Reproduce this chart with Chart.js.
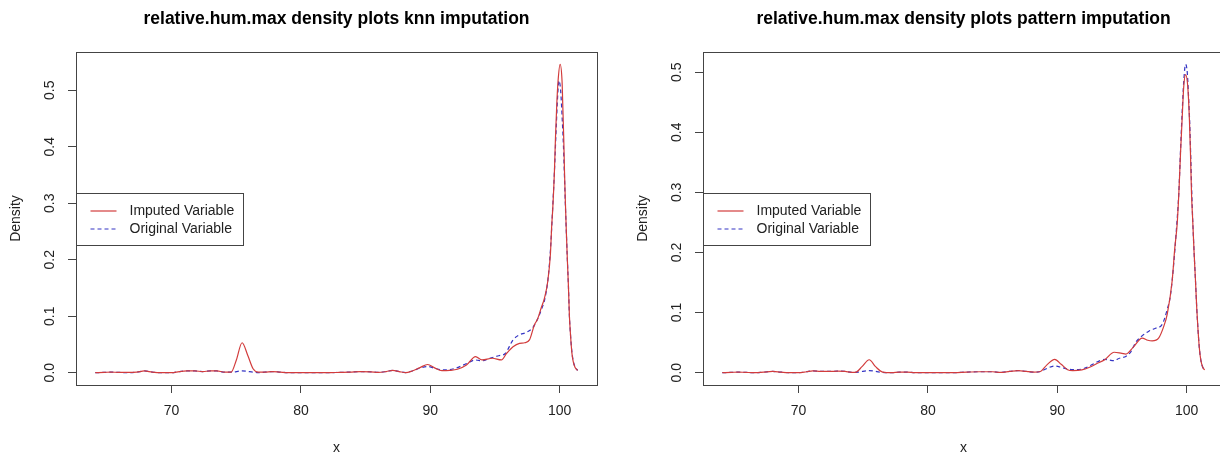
<!DOCTYPE html>
<html lang="en">
<head>
  <meta charset="UTF-8" />
  <title>relative.hum.max density plots</title>
  <script src="https://cdn.jsdelivr.net/npm/chart.js"></script>
  <style>
    body {
      margin: 0;
      background: #fff;
      width: 1220px;
      height: 455px;
      overflow: hidden;
      position: relative;
    }
    .panel {
      position: absolute;
      top: 0;
      width: 673px;
      height: 455px;
    }
    #knnPanel { left: 0; }
    #patternPanel { left: 627px; }
  </style>
</head>
<body>
  <div class="panel" id="knnPanel"><canvas id="knnChart" width="673" height="455"></canvas></div>
  <div class="panel" id="patternPanel"><canvas id="patternChart" width="673" height="455"></canvas></div>

<script>
  // tick labels
  const xTicks = [70, 80, 90, 100];
  const yTicks = [0, 0.1, 0.2, 0.3, 0.4, 0.5];
  const seriesNames = ["Imputed Variable", "Original Variable"];

  // knn imputation - imputed variable
  const knnImpX = [64.1, 64.8, 65.3, 65.9, 66.6, 67.3, 67.9, 68.5, 69.2, 70.0, 70.6, 71.2, 71.8, 72.4, 73.0, 73.5, 74.1, 74.6,
    75.0, 75.45, 75.9, 76.3, 76.7, 77.2, 77.8, 78.4, 79.0, 80.0, 81.0, 82.0, 83.0, 83.8, 84.6, 85.4, 86.0, 86.6, 87.1, 87.6,
    88.1, 88.6, 89.2, 89.8, 90.3, 90.9, 91.5, 92.1, 92.8, 93.5, 94.0, 94.8, 95.5, 95.9, 96.4, 96.9, 97.3, 97.67, 98.05, 98.3,
    98.57, 98.83, 99.08, 99.29, 99.39, 99.47, 99.6, 99.68, 99.78, 99.88, 100.04, 100.19, 100.25, 100.32, 100.38, 100.45,
    100.52, 100.6, 100.68, 100.76, 100.85, 100.95, 101.05, 101.2, 101.4];
  const knnImpY = [0, 0.0005, 0.001, 0.0005, 0.0005, 0.001, 0.003, 0.001, 0, 0, 0.002, 0.003, 0.003, 0.002, 0.003, 0.003, 0.001, 0.001,
    0.022, 0.053, 0.03, 0.007, 0.001, 0.001, 0.002, 0.001, 0, 0, 0, 0, 0.0005, 0.001, 0.002, 0.0015, 0.0005, 0.002, 0.004, 0.002,
    0, 0.003, 0.009, 0.0145, 0.009, 0.0035, 0.004, 0.006, 0.0135, 0.0285, 0.0225, 0.0255, 0.0225, 0.034, 0.046, 0.052, 0.053, 0.058, 0.0845, 0.095,
    0.114, 0.132, 0.161, 0.21, 0.26, 0.29, 0.356, 0.415, 0.474, 0.516, 0.546, 0.516, 0.47, 0.415, 0.355, 0.30,
    0.25, 0.20, 0.155, 0.10, 0.065, 0.035, 0.02, 0.009, 0.004];

  // knn imputation - original variable
  const knnOrigX = [64.1, 64.8, 65.3, 65.9, 66.6, 67.3, 67.9, 68.5, 69.2, 70.0, 70.6, 71.2, 71.8, 72.4, 73.0, 73.5, 74.1, 74.6,
    75.45, 76.3, 76.7, 77.2, 77.8, 78.4, 79.0, 82.0, 83.0, 83.8, 84.6, 85.4, 86.0, 86.6, 87.1, 87.6, 88.1, 88.6, 89.2, 89.8,
    90.3, 90.9, 91.5, 92.1, 92.8, 93.5, 94.0, 94.6, 95.3, 95.8, 96.4, 96.9, 97.4, 97.9, 98.3, 98.6, 98.85, 99.1, 99.3, 99.45,
    99.6, 99.75, 99.85, 99.95, 100.08, 100.2, 100.3, 100.38, 100.45, 100.52, 100.6, 100.68, 100.76, 100.85, 100.95, 101.05,
    101.2, 101.4];
  const knnOrigY = [0, 0.0005, 0.001, 0.0005, 0, 0.001, 0.003, 0.001, 0, 0, 0.002, 0.003, 0.003, 0.002, 0.003, 0.003, 0.001, 0.001,
    0.003, 0.001, 0, 0.001, 0.002, 0.001, 0, 0, 0.0005, 0.001, 0.002, 0.0015, 0.0005, 0.002, 0.004, 0.002, 0, 0.003, 0.008, 0.011,
    0.008, 0.005, 0.0055, 0.009, 0.016, 0.0225, 0.021, 0.0255, 0.03, 0.034, 0.058, 0.067, 0.071, 0.079, 0.095, 0.112, 0.13, 0.165, 0.22, 0.285,
    0.356, 0.44, 0.49, 0.517, 0.50, 0.45, 0.40, 0.345, 0.295, 0.25, 0.20, 0.155, 0.10, 0.065, 0.037, 0.021,
    0.01, 0.004];

  // pattern imputation - imputed variable
  const patImpX = [64.1, 64.8, 65.3, 65.9, 66.6, 67.3, 68.0, 68.6, 69.2, 70.0, 70.6, 71.1, 71.7, 72.4, 73.0, 73.6, 74.1, 74.45,
    74.9, 75.46, 75.95, 76.5, 77.2, 77.8, 78.4, 79.0, 82.0, 83.0, 84.0, 85.0, 85.6, 86.3, 87.0, 87.6, 88.2, 88.7, 89.2, 89.8,
    90.3, 90.8, 91.2, 91.9, 92.5, 93.0, 93.7, 94.4, 95.0, 95.3, 95.9, 96.56, 97.0, 97.34, 97.85, 98.2, 98.5, 98.88, 99.09,
    99.27, 99.4, 99.53, 99.65, 99.78, 99.92, 100.09, 100.22, 100.3, 100.38, 100.48, 100.58, 100.69, 100.79, 100.89, 100.99,
    101.1, 101.25, 101.4];
  const patImpY = [0, 0.0005, 0.001, 0.0005, 0, 0.001, 0.002, 0.001, 0, 0, 0.0015, 0.003, 0.002, 0.002, 0.0025, 0.002, 0.0005, 0.001,
    0.01, 0.0215, 0.01, 0.001, 0, 0.001, 0.001, 0, 0, 0.001, 0.0015, 0.0015, 0.0005, 0.002, 0.0035, 0.002, 0.001, 0.002, 0.013, 0.0222,
    0.014, 0.005, 0.0034, 0.0045, 0.009, 0.0145, 0.022, 0.034, 0.032, 0.031, 0.043, 0.0576, 0.054, 0.053, 0.058, 0.075, 0.097, 0.152, 0.208,
    0.247, 0.298, 0.365, 0.42, 0.476, 0.496, 0.476, 0.42, 0.365, 0.298, 0.25, 0.20, 0.152, 0.105, 0.069, 0.04,
    0.021, 0.009, 0.0045];

  // pattern imputation - original variable
  const patOrigX = [64.1, 64.8, 65.3, 65.9, 66.6, 67.3, 68.0, 68.6, 69.2, 70.0, 70.6, 71.1, 71.7, 72.4, 73.0, 73.6, 74.1, 74.6,
    75.46, 76.3, 77.2, 77.8, 78.4, 79.0, 82.0, 83.0, 84.0, 85.0, 85.6, 86.3, 87.0, 87.6, 88.2, 88.7, 89.2, 89.8, 90.3, 90.8,
    91.2, 91.9, 92.5, 93.0, 93.7, 94.4, 94.8, 95.3, 95.7, 96.05, 96.6, 97.08, 97.6, 98.1, 98.5, 98.76, 99.0, 99.2, 99.4, 99.53,
    99.65, 99.78, 99.92, 100.05, 100.15, 100.25, 100.32, 100.4, 100.48, 100.58, 100.69, 100.79, 100.89, 100.99, 101.1,
    101.25, 101.4];
  const patOrigY = [0, 0.0005, 0.001, 0.0005, 0, 0.001, 0.002, 0.001, 0, 0, 0.0015, 0.003, 0.002, 0.002, 0.0025, 0.002, 0.0005, 0.001,
    0.0034, 0.001, 0, 0.001, 0.001, 0, 0, 0.001, 0.0015, 0.0015, 0.0005, 0.002, 0.0035, 0.002, 0.001, 0.002, 0.007, 0.0112, 0.009, 0.006,
    0.005, 0.006, 0.011, 0.017, 0.022, 0.020, 0.024, 0.027, 0.035, 0.05, 0.062, 0.069, 0.074, 0.080, 0.105, 0.13, 0.18, 0.235, 0.30, 0.37,
    0.43, 0.485, 0.513, 0.50, 0.46, 0.41, 0.36, 0.30, 0.25, 0.20, 0.152, 0.105, 0.069, 0.04, 0.021,
    0.009, 0.0045];

  const FONT = "'Liberation Sans', Arial, sans-serif";
  const INK = "#222";
  const FRAME = "#444";
  Chart.defaults.font.family = FONT;
  Chart.defaults.color = INK;

  const toPoints = (xs, ys) => xs.map((x, i) => ({ x: x, y: ys[i] }));

  // R style box round the plot region
  const plotBox = {
    id: "plotBox",
    afterDraw(chart) {
      const { ctx, chartArea: a } = chart;
      ctx.save();
      ctx.strokeStyle = FRAME;
      ctx.lineWidth = 1;
      ctx.strokeRect(Math.round(a.left) + 0.5, Math.round(a.top) + 0.5, Math.round(a.right - a.left), Math.round(a.bottom - a.top));
      ctx.restore();
    }
  };

  // legend at "left" like legend("left", ...) in R
  const leftLegend = {
    id: "leftLegend",
    afterDraw(chart) {
      const { ctx, chartArea: a } = chart;
      const w = 167, h = 52;
      const left = Math.round(a.left) + 0.5;
      const top = Math.round((a.top + a.bottom) / 2 - h / 2) + 0.5;
      ctx.save();
      ctx.fillStyle = "#fff";
      ctx.fillRect(left, top, w, h);
      ctx.strokeStyle = FRAME;
      ctx.lineWidth = 1;
      ctx.strokeRect(left, top, w, h);
      chart.data.datasets.forEach((ds, i) => {
        const y = top + 17.5 + i * 18;
        ctx.strokeStyle = ds.borderColor;
        ctx.lineWidth = ds.borderWidth;
        ctx.setLineDash(ds.borderDash || []);
        ctx.beginPath();
        ctx.moveTo(left + 14, y);
        ctx.lineTo(left + 40, y);
        ctx.stroke();
        ctx.setLineDash([]);
        ctx.fillStyle = INK;
        ctx.font = "14px " + FONT;
        ctx.textBaseline = "middle";
        ctx.fillText(ds.label, left + 53, y);
      });
      ctx.restore();
    }
  };

  function densityChart(id, title, imp, orig) {
    const allX = imp.concat(orig).map(p => p.x);
    const allY = imp.concat(orig).map(p => p.y);
    const xLo = Math.min(...allX), xHi = Math.max(...allX);
    const yHi = Math.max(...allY);
    const xPad = (xHi - xLo) * 0.04, yPad = yHi * 0.04;

    return new Chart(document.getElementById(id), {
      type: "line",
      data: {
        datasets: [{
          label: seriesNames[0],
          data: imp,
          borderColor: "#d23c3c",
          borderWidth: 1.2,
          pointRadius: 0,
          cubicInterpolationMode: "monotone",
          fill: false
        }, {
          label: seriesNames[1],
          data: orig,
          borderColor: "#3434c4",
          borderWidth: 1.2,
          borderDash: [4, 3],
          pointRadius: 0,
          cubicInterpolationMode: "monotone",
          fill: false
        }]
      },
      options: {
        responsive: false,
        animation: false,
        events: [],
        layout: { padding: { left: 0, right: 76, top: 0, bottom: 0 } },
        plugins: {
          legend: { display: false },
          tooltip: { enabled: false },
          title: {
            display: true,
            fullSize: false,
            text: title,
            color: "#000",
            font: { size: 17.5, weight: "bold" },
            padding: { top: 8.5, bottom: 22.5 }
          }
        },
        scales: {
          x: {
            type: "linear",
            min: xLo - xPad,
            max: xHi + xPad,
            afterBuildTicks: s => { s.ticks = xTicks.map(v => ({ value: v })); },
            afterFit: s => { s.height = 70; },
            border: { display: false },
            grid: { drawOnChartArea: false, drawTicks: true, tickLength: 8, tickColor: FRAME },
            ticks: { font: { size: 14 }, color: INK, padding: 10, maxRotation: 0 },
            title: { display: true, text: "x", font: { size: 14, lineHeight: 1 }, color: INK, padding: 0 }
          },
          y: {
            min: -yPad,
            max: yHi + yPad,
            afterBuildTicks: s => { s.ticks = yTicks.map(v => ({ value: v })); },
            afterFit: s => { s.width = 76; },
            border: { display: false },
            grid: { drawOnChartArea: false, drawTicks: true, tickLength: 8, tickColor: FRAME },
            ticks: {
              font: { size: 14 },
              color: INK,
              minRotation: 90,
              maxRotation: 90,
              crossAlign: "center",
              padding: 8,
              callback: v => Number(v).toFixed(1)
            },
            title: { display: true, text: "Density", font: { size: 14 }, color: INK, padding: { top: 8, bottom: 0 } }
          }
        }
      },
      plugins: [plotBox, leftLegend]
    });
  }

  densityChart("knnChart", "relative.hum.max density plots knn imputation",
    toPoints(knnImpX, knnImpY), toPoints(knnOrigX, knnOrigY));
  densityChart("patternChart", "relative.hum.max density plots pattern imputation",
    toPoints(patImpX, patImpY), toPoints(patOrigX, patOrigY));
</script>
</body>
</html>
